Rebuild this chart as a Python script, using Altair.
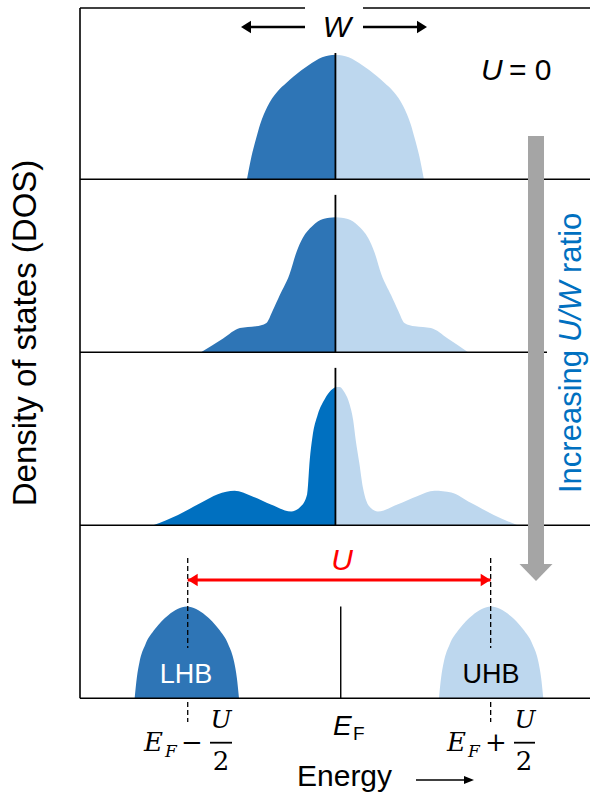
import altair as alt
import pandas as pd

# ---------------- data (energy in units of W/2, E_F = 0; DOS in panel heights) ----------------
# Panel 1: U = 0
P1_E_FILLED = [-1.00, -0.95, -0.90, -0.85, -0.77, -0.66, -0.55, -0.47, -0.30, -0.15, 0.00]
P1_D_FILLED = [0.00, 0.13, 0.23, 0.32, 0.42, 0.505, 0.56, 0.595, 0.66, 0.705, 0.72]
P1_E_EMPTY = [0.00, 0.15, 0.30, 0.47, 0.55, 0.66, 0.77, 0.85, 0.90, 0.95, 1.00]
P1_D_EMPTY = [0.72, 0.705, 0.66, 0.595, 0.56, 0.505, 0.42, 0.32, 0.23, 0.13, 0.00]

# Panel 2: small U/W
P2_E_FILLED = [-1.52, -1.27, -1.08, -0.90, -0.78, -0.71, -0.63, -0.52, -0.44, -0.37, -0.26, -0.14, 0.00]
P2_D_FILLED = [0.00, 0.08, 0.14, 0.15, 0.17, 0.24, 0.33, 0.45, 0.58, 0.66, 0.73, 0.77, 0.78]
P2_E_EMPTY = [0.00, 0.14, 0.26, 0.37, 0.44, 0.52, 0.63, 0.71, 0.78, 0.90, 1.08, 1.27, 1.50]
P2_D_EMPTY = [0.78, 0.77, 0.73, 0.66, 0.58, 0.45, 0.33, 0.24, 0.17, 0.15, 0.14, 0.08, 0.00]

# Panel 3: larger U/W (quasiparticle peak + Hubbard bands)
P3_E_FILLED = [-2.06, -1.78, -1.52, -1.33, -1.14, -0.95, -0.73, -0.50, -0.39, -0.32,
               -0.29, -0.26, -0.20, -0.12, -0.05, 0.00]
P3_D_FILLED = [0.00, 0.06, 0.13, 0.18, 0.20, 0.17, 0.12, 0.08, 0.11, 0.18,
               0.38, 0.51, 0.64, 0.73, 0.78, 0.80]
P3_E_EMPTY = [0.00, 0.05, 0.10, 0.16, 0.20, 0.23, 0.27, 0.31, 0.35, 0.40,
              0.48, 0.70, 0.93, 1.12, 1.31, 1.53, 1.79, 2.06]
P3_D_EMPTY = [0.80, 0.80, 0.77, 0.70, 0.61, 0.49, 0.36, 0.22, 0.14, 0.10,
              0.08, 0.12, 0.17, 0.20, 0.19, 0.13, 0.06, 0.00]

# Panel 4: Mott insulator, lower / upper Hubbard bands
LHB_E = [-2.27, -2.245, -2.215, -2.15, -2.04, -1.89, -1.68, -1.47, -1.32, -1.21, -1.145, -1.115, -1.09]
LHB_D = [0.00, 0.12, 0.21, 0.31, 0.40, 0.48, 0.53, 0.48, 0.40, 0.31, 0.21, 0.12, 0.00]
UHB_E = [1.17, 1.195, 1.225, 1.29, 1.40, 1.55, 1.76, 1.97, 2.12, 2.23, 2.295, 2.325, 2.35]
UHB_D = [0.00, 0.12, 0.21, 0.31, 0.40, 0.48, 0.53, 0.48, 0.40, 0.31, 0.21, 0.12, 0.00]

# Fermi-level markers (energy, bottom, top) per panel, top to bottom
EF_E = [0.00, 0.00, 0.00, 0.06]
EF_LO = [3.0, 2.0, 1.0, 0.0]
EF_HI = [3.73, 2.91, 1.91, 0.53]

# Hubbard band centres E_F -/+ U/2
BAND_CENTERS = [-1.67, 1.755]

PANEL_BASES = [3.0, 2.0, 1.0, 0.0]

# ---------------- build tables ----------------
rows = []
def add(series, base, part, E, D):
    for e, d in zip(E, D):
        rows.append({"series": series, "base": base, "part": part, "energy": e, "dos": d})

add("p1f", PANEL_BASES[0], "filled", P1_E_FILLED, P1_D_FILLED)
add("p1e", PANEL_BASES[0], "empty", P1_E_EMPTY, P1_D_EMPTY)
add("p2f", PANEL_BASES[1], "filled", P2_E_FILLED, P2_D_FILLED)
add("p2e", PANEL_BASES[1], "empty", P2_E_EMPTY, P2_D_EMPTY)
add("p3f", PANEL_BASES[2], "filled3", P3_E_FILLED, P3_D_FILLED)
add("p3e", PANEL_BASES[2], "empty", P3_E_EMPTY, P3_D_EMPTY)
add("lhb", PANEL_BASES[3], "filled", LHB_E, LHB_D)
add("uhb", PANEL_BASES[3], "empty", UHB_E, UHB_D)
dos_df = pd.DataFrame(rows)

ef_df = pd.DataFrame({"energy": EF_E, "lo": EF_LO, "hi": EF_HI})

# ---------------- scales / styles ----------------
XS = alt.Scale(domain=[-3.7923, 2.8668], nice=False, zero=False)
YS = alt.Scale(domain=[-0.5474, 4.0364], nice=False, zero=False)
DARK, DARK3, LIGHT = "#2e75b6", "#0070c0", "#bdd7ee"
GRAY = "#a5a5a5"
SANS = "Liberation Sans"
SERIF = "DejaVu Serif"
ONE = pd.DataFrame({"k": [0]})

areas = alt.Chart(dos_df).transform_calculate(
    top="datum.base + datum.dos"
).mark_area(interpolate="monotone").encode(
    x=alt.X("energy:Q", scale=XS, axis=None),
    y=alt.Y("top:Q", scale=YS, axis=None),
    y2="base:Q",
    color=alt.Color("part:N", legend=None,
                    scale=alt.Scale(domain=["filled", "filled3", "empty"], range=[DARK, DARK3, LIGHT])),
    detail="series:N",
)

ef_lines_top = alt.Chart(ef_df.iloc[:3]).mark_rule(color="black", strokeWidth=1.8).encode(
    x=alt.X("energy:Q", scale=XS), y=alt.Y("lo:Q", scale=YS), y2="hi:Q")
ef_line_bottom = alt.Chart(ef_df.iloc[3:]).mark_rule(color="black", strokeWidth=1.4).encode(
    x=alt.X("energy:Q", scale=XS), y=alt.Y("lo:Q", scale=YS), y2="hi:Q")


def hrule_data(yv, x1, x2, width=1.6):
    return alt.Chart(ONE).mark_rule(color="black", strokeWidth=width).encode(
        y=alt.datum(yv), x=alt.value(x1), x2=alt.value(x2))


def rule_px(x, y, x2=None, y2=None, color="black", width=1.5, dash=None):
    kw = dict(color=color, strokeWidth=width)
    if dash:
        kw["strokeDash"] = dash
    enc = dict(x=alt.value(x), y=alt.value(y))
    if x2 is not None:
        enc["x2"] = alt.value(x2)
    if y2 is not None:
        enc["y2"] = alt.value(y2)
    return alt.Chart(ONE).mark_rule(**kw).encode(**enc)


def vdash(xe, y1, y2):
    return alt.Chart(ONE).mark_rule(color="black", strokeWidth=1.3, strokeDash=[5, 3]).encode(
        x=alt.datum(xe), y=alt.value(y1), y2=alt.value(y2))


def head(path, size, color, x, y):
    return alt.Chart(ONE).mark_point(shape=path, size=size, filled=True, opacity=1,
                                     color=color, strokeWidth=0).encode(x=x, y=y)


def text(s, x, y, size, color="black", font=SANS, style="normal", align="center", angle=0):
    kw = dict(text=s, font=font, fontSize=size, fontStyle=style, color=color,
              align=align, baseline="alphabetic")
    if angle:
        kw["angle"] = angle
    return alt.Chart(ONE).mark_text(**kw).encode(x=alt.value(x), y=alt.value(y))


LEFT_HEAD = "M0,0L2,-1.25L2,1.25Z"
RIGHT_HEAD = "M0,0L-2,-1.25L-2,1.25Z"
THIN_RIGHT_HEAD = "M0,0L-2,-0.8L-2,0.8Z"

layers = [
    areas,
    # frame
    rule_px(80, 8, y2=698.3, width=1.6),
    hrule_data(3.99, 80, 305),
    hrule_data(3.99, 363, 590),
    hrule_data(3.0, 80, 590),
    hrule_data(2.0, 80, 547),
    hrule_data(1.0, 80, 590),
    hrule_data(0.0, 80, 590),
    ef_lines_top,
    ef_line_bottom,
    # dashed markers at E_F -/+ U/2
    vdash(BAND_CENTERS[0], 558, 648), vdash(BAND_CENTERS[0], 702, 722),
    vdash(BAND_CENTERS[1], 558, 648), vdash(BAND_CENTERS[1], 702, 722),
    # red U arrow
    alt.Chart(ONE).mark_rule(color="#ff0000", strokeWidth=3).encode(
        x=alt.datum(BAND_CENTERS[0]), x2=alt.datum(BAND_CENTERS[1]), y=alt.value(580)),
    head(LEFT_HEAD, 100, "#ff0000", alt.datum(BAND_CENTERS[0]), alt.value(580)),
    head(RIGHT_HEAD, 100, "#ff0000", alt.datum(BAND_CENTERS[1]), alt.value(580)),
    # W arrows
    rule_px(249, 27, x2=305, width=2.5),
    rule_px(363, 27, x2=419, width=2.5),
    head(LEFT_HEAD, 100, "black", alt.value(241), alt.value(27)),
    head(RIGHT_HEAD, 100, "black", alt.value(427), alt.value(27)),
    # gray arrow
    rule_px(536, 136, y2=565, color=GRAY, width=16),
    head("M-1,0L1,0L0,1.03Z", 1089, GRAY, alt.value(536), alt.value(564)),
    # energy arrow
    rule_px(416, 780, x2=465, width=1.6),
    head(THIN_RIGHT_HEAD, 100, "black", alt.value(474), alt.value(780)),
    # texts
    text("W", 337, 37, 30, style="italic"),
    text("U", 481, 80, 30, style="italic", align="left"),
    text("= 0", 509, 80, 30, align="left"),
    text("U", 342, 570, 30, color="#ff0000", style="italic"),
    text("LHB", 186, 683, 27, color="white"),
    text("UHB", 491, 683, 27),
    text("Density of states (DOS)", 36, 333, 33, angle=270),
    text("Increasing", 581, 493, 31, color=DARK3, align="left", angle=270),
    text("U/W", 581, 342, 31, color=DARK3, style="italic", align="left", angle=270),
    text("ratio", 581, 273, 31, color=DARK3, align="left", angle=270),
    # E_F centre label
    text("E", 333, 735, 28, style="italic", align="left"),
    text("F", 353, 740, 19, align="left"),
    # E_F - U/2
    text("E", 144, 751, 26, font=SERIF, style="italic", align="left"),
    text("F", 165, 757, 17, font=SERIF, style="italic", align="left"),
    text("\u2212", 192, 751, 26, font=SERIF),
    text("U", 221, 728, 25, font=SERIF, style="italic"),
    rule_px(210, 742.7, x2=232, width=1.8),
    text("2", 221, 770, 26, font=SERIF),
    # E_F + U/2
    text("E", 447, 751, 26, font=SERIF, style="italic", align="left"),
    text("F", 468, 757, 17, font=SERIF, style="italic", align="left"),
    text("+", 496, 751, 26, font=SERIF),
    text("U", 525, 728, 25, font=SERIF, style="italic"),
    rule_px(514, 742.7, x2=535, width=1.8),
    text("2", 524, 770, 26, font=SERIF),
    # Energy
    text("Energy", 297, 786, 30, align="left"),
]

chart = alt.layer(*layers).properties(
    width=590, height=793, padding=0,
    autosize=alt.AutoSizeParams(type="fit", contains="padding"),
    background="white",
).configure_view(stroke=None).configure_axis(disable=True)

chart.save("out.html", embed_options={"renderer": "svg", "actions": False})
